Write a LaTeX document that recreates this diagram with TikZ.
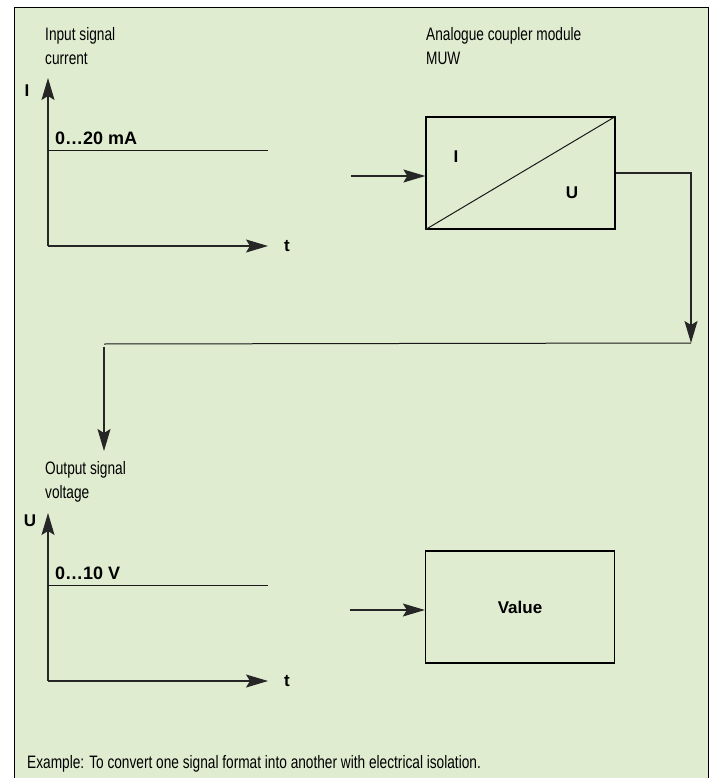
\documentclass[tikz,border=0pt]{standalone}
\usepackage{fontspec}
\setmainfont{Liberation Sans}
\newfontfamily\condfont{Liberation Sans}[FakeStretch=0.76]
\usetikzlibrary{arrows.meta,positioning}
\definecolor{panel}{RGB}{224,236,208}
\tikzstyle{sigtext} = [font=\condfont\fontsize{18}{24}\selectfont, align=left, inner sep=0pt, anchor=north west]
\tikzstyle{sym} = [font=\bfseries\fontsize{17}{20}\selectfont, inner sep=0pt]
\tikzstyle{block} = [rectangle, draw=black, line width=1.3pt, minimum width=189pt, minimum height=112pt, inner sep=0pt]
\tikzstyle{arrow} = [line width=1.1pt, draw=black!85, -{Stealth[length=22pt,width=13pt,inset=4pt]}]
\tikzstyle{wire} = [line width=1pt, draw=black!90]

\begin{document}
\begin{tikzpicture}[x=1pt,y=-1pt]
    \useasboundingbox (0,0) rectangle (712,778);
    \fill[panel] (14,8) rectangle (708,782);
    \draw[line width=1pt] (14,782) -- (14,8) -- (708,8) -- (708,782);

    % input signal
    \node (intext) [sigtext] at (45,27) {Input signal\\current};
    \coordinate (inorig) at (48,246);
    \coordinate (intop) at (48,78);
    \coordinate (inend) at (268,246);
    \coordinate (inlvl) at (48,151);
    \node (isym) [sym] at (27,91) {I};
    \node (tin) [sym] at (287,246) {t};
    \node (inrange) [sym, font=\bfseries\fontsize{18}{20}\selectfont, anchor=base west] at (55,145) {0…20 mA};

    \draw[arrow] (inorig) -- (intop);
    \draw[arrow] (inorig) -- (inend);
    \draw[wire] (inlvl) -- (inlvl -| inend);

    % coupler module
    \node (convtext) [sigtext] at (426,27) {Analogue coupler module\\MUW};
    \node (conv) [block] at (520.5,173) {};
    \node (convi) [sym] at (456,157) {I};
    \node (convu) [sym] at (572,193) {U};
    \coordinate (convin) at (351,176);
    \coordinate (rdrop) at (691,343);
    \coordinate (ldrop) at (104,344);
    \coordinate (lstart) at (104,347);
    \coordinate (outtip) at (104,451);

    \draw[wire] (conv.south west) -- (conv.north east);
    \draw[arrow] (convin) -- (convin -| conv.west);
    \draw[arrow] (conv.east) -| (rdrop);
    \draw[wire] (rdrop) -- (ldrop);
    \draw[arrow] (lstart) -- (outtip);

    % output signal
    \node (outtext) [sigtext] at (45,461) {Output signal\\voltage};
    \coordinate (outorig) at (48,681);
    \coordinate (outtop) at (48,513);
    \coordinate (outend) at (268,681);
    \coordinate (outlvl) at (48,585);
    \node (usym) [sym] at (30,521) {U};
    \node (tout) [sym] at (287,681) {t};
    \node (outrange) [sym, font=\bfseries\fontsize{18}{20}\selectfont, anchor=base west] at (55,579) {0…10 V};

    \draw[arrow] (outorig) -- (outtop);
    \draw[arrow] (outorig) -- (outend);
    \draw[wire] (outlvl) -- (outlvl -| outend);

    % value
    \node (value) [block, sym] at (520,607) {Value};
    \coordinate (valin) at (350,610);
    \draw[arrow] (valin) -- (valin -| value.west);

    \node (note) [sigtext, anchor=base west] at (27,768) {Example: To convert one signal format into another with electrical isolation.};
\end{tikzpicture}
\end{document}
